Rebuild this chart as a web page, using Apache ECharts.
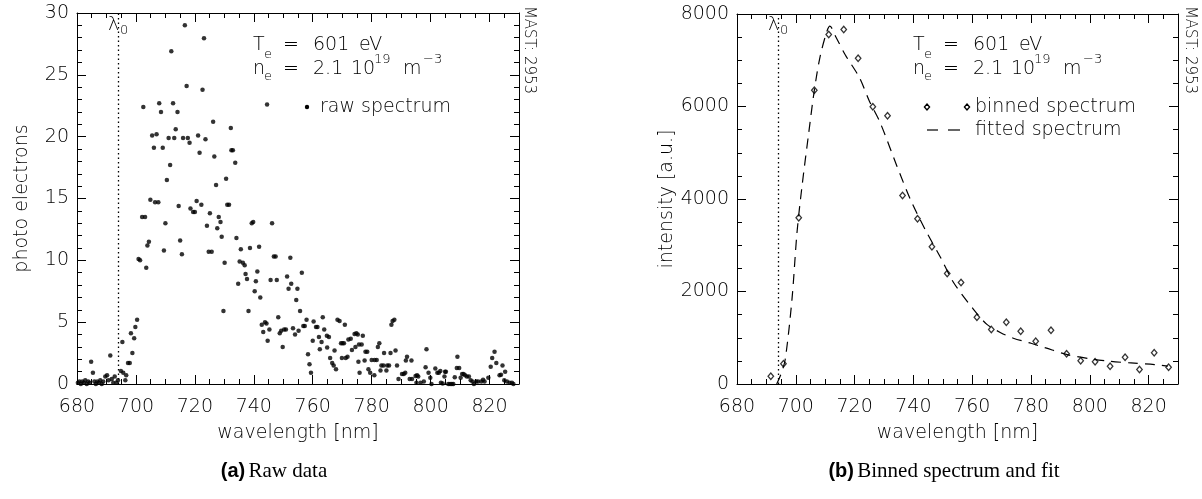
<!DOCTYPE html>
<html>
<head>
<meta charset="utf-8">
<script src="https://cdn.jsdelivr.net/npm/echarts@6/dist/echarts.min.js"></script>
<style>
html,body{margin:0;padding:0;background:#fff;}
#chart{width:1202px;height:499px;}
</style>
</head>
<body>
<div id="chart"></div>
<script>
// ---------------- data ----------------
const xMin = 680, xMax = 830;
const lambda0 = 694;

const rawWavelength = [
680.3,680.8,681.3,681.8,682.3,682.8,683.3,683.8,684.3,684.8,685.4,685.9,686.4,686.9,687.4,687.9,688.4,688.9,689.6,690.2,
690.7,691.3,691.8,692.3,692.8,693.4,693.9,694.9,695.4,695.7,696.4,696.7,697.3,697.9,698.3,698.8,699.4,699.8,700.4,700.9,
701.4,702.1,702.5,703.1,703.5,703.9,704.4,704.9,705.5,706.1,706.5,707.0,707.6,707.9,708.5,709.1,709.5,710.0,710.5,711.1,
711.6,712.0,712.6,713.0,713.5,714.1,714.5,715.0,715.6,716.0,716.6,717.2,717.6,718.2,718.5,719.4,720.0,720.6,721.1,721.6,
722.2,722.6,723.1,723.6,724.1,724.7,725.1,725.7,726.2,726.6,727.2,727.6,728.1,728.7,729.1,729.7,730.1,730.6,731.0,731.6,
732.2,732.4,732.9,733.7,734.1,734.7,735.2,735.6,736.3,736.9,737.2,737.7,738.2,738.7,739.3,739.8,740.3,740.7,741.2,741.8,
742.2,742.7,743.2,743.8,744.3,744.5,744.7,745.3,745.7,746.2,746.8,747.4,747.8,748.3,748.8,749.3,749.8,750.3,750.9,751.3,
751.8,752.4,752.7,753.3,754.0,754.4,754.8,755.2,755.7,756.3,756.8,757.3,757.9,758.4,758.9,759.4,760.0,760.3,761.1,761.6,
762.1,762.4,763.0,763.4,763.9,764.8,764.9,765.5,765.9,766.6,767.1,767.4,767.9,768.4,769.1,769.6,769.9,770.1,770.6,770.9,
771.2,771.8,772.1,772.9,773.3,774.2,774.5,774.8,775.3,775.5,775.7,775.9,776.6,777.0,777.6,777.9,778.5,778.9,779.5,780.0,
780.9,781.0,781.7,782.1,782.6,783.0,783.3,784.0,784.2,785.0,785.3,785.9,786.4,786.7,787.1,787.7,788.1,788.6,789.1,790.3,
790.9,791.4,791.6,792.0,792.9,793.5,793.7,794.9,795.2,795.4,795.8,796.6,797.7,798.3,798.6,799.3,799.9,800.3,801.6,802.3,
802.8,803.3,803.5,804.1,804.7,804.9,805.2,806.0,806.6,807.2,807.7,808.2,808.9,809.1,809.7,810.2,810.7,811.2,811.7,812.3,
813.0,813.6,814.2,814.7,815.5,816.1,817.2,817.8,818.3,819.6,820.4,820.9,821.7,822.3,823.4,823.9,824.4,825.0,825.3,825.9,
826.8,827.6,828.1
];
const rawCounts = [
0.1,0.2,0.0,0.2,0.1,0.3,0.0,0.2,0.1,1.8,0.9,0.2,0.0,0.2,0.1,0.3,0.0,0.2,0.6,0.7,
0.3,2.3,0.4,0.1,0.6,0.1,0.3,1.05,3.4,0.9,0.3,0.7,1.7,1.7,4.1,2.5,3.7,4.6,5.2,10.1,
10.0,13.5,22.4,13.5,9.4,11.2,11.5,14.9,20.1,19.1,14.7,20.2,14.7,22.7,22.0,19.1,10.8,13.0,16.5,19.9,
17.7,26.9,22.7,19.9,20.6,22.0,14.4,11.6,10.5,19.9,29.0,24.1,19.9,19.5,14.2,13.9,13.9,14.8,20.1,18.7,
14.5,23.8,27.95,19.8,12.8,10.7,13.8,10.7,21.2,18.4,16.1,12.6,13.5,13.1,11.9,5.9,9.8,16.6,14.5,14.5,
20.7,18.9,18.9,17.9,11.8,8.1,9.9,10.9,9.8,9.6,8.9,8.5,5.9,11.0,13.0,13.1,7.5,8.3,9.1,11.1,
7.0,4.8,4.2,5.0,4.9,22.6,3.5,4.4,8.4,13.0,10.3,10.3,8.4,5.4,4.1,4.3,3.0,4.4,4.4,8.7,
7.7,10.2,8.1,4.5,4.0,6.8,7.7,4.3,5.9,9.0,4.7,4.7,5.2,2.4,1.6,0.9,3.5,5.05,4.6,4.6,
3.8,2.8,3.4,5.4,4.4,3.9,2.95,3.8,2.1,1.7,1.5,2.7,1.2,5.2,5.1,3.3,2.1,3.3,3.3,4.8,
2.1,2.2,3.6,3.65,2.75,4.05,3.0,4.1,4.0,1.8,3.2,0.9,3.2,3.9,1.9,2.6,2.6,1.2,0.9,1.95,
0.7,1.95,1.95,3.0,3.3,1.1,1.5,1.5,2.5,1.1,1.5,1.5,2.5,4.8,5.1,5.2,2.7,1.5,0.4,0.8,
0.8,0.9,1.9,2.2,0.4,1.9,0.4,0.65,0.1,0.7,0.6,0.1,0.2,1.35,2.8,0.9,0.5,0.0,1.25,0.9,
0.9,1.05,0.1,0.05,0.6,1.0,1.0,0.0,0.0,0.0,0.0,0.55,1.3,2.2,1.3,0.5,0.8,0.8,0.7,0.6,
0.6,0.3,0.2,0.0,0.2,0.2,0.2,0.35,0.2,0.5,1.4,2.1,2.6,1.7,0.7,0.75,1.5,0.3,1.0,0.2,
0.1,0.1,0.0
];

const binWavelength = [691.5,695.8,701.0,706.3,711.2,716.3,721.2,726.2,731.2,736.3,741.4,746.3,751.5,756.2,
  761.6,766.5,771.6,776.5,781.6,786.8,792.1,796.9,801.8,806.9,812.0,816.9,821.9,826.8];
const binIntensity = [169,436,3593,6352,7556,7664,7044,5993,5798,4075,3572,2966,2389,2194,
  1444,1178,1336,1142,925,1163,653,502,480,385,579,313,674,363];

const fitWavelength = [693.5,695.0,696.4,698.7,700.4,702.1,704.4,706.3,708.3,710.6,711.6,713.5,716.8,721.6,725.0,
  728.7,734.4,739.0,744.0,749.2,753.7,760.5,765.0,769.7,774.0,780.0,785.0,792.0,800.0,807.0,814.0,822.0,826.5];
const fitIntensity = [0,220,530,1830,3270,4270,5430,6350,7090,7630,7740,7520,7120,6630,6120,
  5650,4710,3990,3340,2740,2190,1610,1290,1110,990,880,780,640,545,490,455,420,385];

// tick spacing (axis decoration)
const xTickInterval = 20, xMinorInterval = 5;
const yRawMax = 30, yRawInterval = 5, yRawMinor = 1;
const yFitMax = 8000, yFitInterval = 2000, yFitMinor = 500;

const Te = '601', neMant = '2.1', neExp = '19';
const shotLabel = 'MAST: 2953';

// ---------------- chart ----------------
const FONT = '"DejaVu Sans", sans-serif';
const FW = 200;
const BLACK = '#000';
const MAJ = 9, MIN = 5;   // tick lengths in px

function steps(a, b, s) { const out = []; for (let v = a; v <= b + 1e-9; v += s) out.push(v); return out; }
function plainNum(v) { return String(v); }

const boxes = [
  {left: 77, top: 13, width: 442, height: 371, ymax: yRawMax, yint: yRawInterval, yminor: yRawMinor, name: 'photo electrons', gap: 45},
  {left: 737, top: 14, width: 441, height: 370, ymax: yFitMax, yint: yFitInterval, yminor: yFitMinor, name: 'intensity [a.u.]', gap: 42}
];

// inward tick marks as markLine segments (plus the dotted lambda_0 line)
function frameMarks(b) {
  const dx = (xMax - xMin) / b.width, dy = b.ymax / b.height;
  const segs = [];
  function seg(x1, y1, x2, y2) { segs.push([{coord: [x1, y1]}, {coord: [x2, y2]}]); }
  steps(xMin, xMax, xMinorInterval).forEach(v => {
    const major = (v - xMin) % xTickInterval === 0;
    const l = (major ? MAJ : MIN) * dy;
    seg(v, 0, v, l); seg(v, b.ymax, v, b.ymax - l);
  });
  steps(0, b.ymax, b.yminor).forEach(v => {
    const major = v % b.yint === 0;
    const l = (major ? MAJ : MIN) * dx;
    seg(xMin, v, xMin + l, v); seg(xMax, v, xMax - l, v);
  });
  segs.push([{coord: [lambda0, 0], lineStyle: {type: [1.5, 3], width: 1.3}},
             {coord: [lambda0, b.ymax]}]);
  return {silent: true, symbol: ['none', 'none'], label: {show: false}, animation: false,
    lineStyle: {color: BLACK, type: 'solid', width: 1}, emphasis: {disabled: true}, data: segs};
}

const grids = [], xAxes = [], yAxes = [];
boxes.forEach((b, g) => {
  grids.push({left: b.left, top: b.top, width: b.width, height: b.height});
  const line = {show: true, onZero: false, lineStyle: {color: BLACK, width: 1}};
  xAxes.push({gridIndex: g, type: 'value', position: 'bottom', min: xMin, max: xMax, interval: xTickInterval,
    axisLine: line, axisTick: {show: false}, splitLine: {show: false},
    axisLabel: {show: true, color: BLACK, fontSize: 19, fontFamily: FONT, fontWeight: FW, margin: 14, showMaxLabel: false, formatter: plainNum},
    name: 'wavelength [nm]', nameLocation: 'middle', nameGap: 40,
    nameTextStyle: {color: BLACK, fontSize: 19, fontFamily: FONT, fontWeight: FW}});
  yAxes.push({gridIndex: g, type: 'value', position: 'left', min: 0, max: b.ymax, interval: b.yint,
    axisLine: line, axisTick: {show: false}, splitLine: {show: false},
    axisLabel: {show: true, color: BLACK, fontSize: 19, fontFamily: FONT, fontWeight: FW, margin: 8, formatter: plainNum},
    name: b.name, nameLocation: 'middle', nameGap: b.gap,
    nameTextStyle: {color: BLACK, fontSize: 19, fontFamily: FONT, fontWeight: FW}});
  xAxes.push({gridIndex: g, type: 'value', position: 'top', min: xMin, max: xMax, interval: xTickInterval,
    axisLine: line, axisTick: {show: false}, splitLine: {show: false}, axisLabel: {show: false}});
  yAxes.push({gridIndex: g, type: 'value', position: 'right', min: 0, max: b.ymax, interval: b.yint,
    axisLine: line, axisTick: {show: false}, splitLine: {show: false}, axisLabel: {show: false}});
});

const rawData = rawWavelength.map((w, i) => [w, rawCounts[i]]);
const binData = binWavelength.map((w, i) => [w, binIntensity[i]]);
const fitData = fitWavelength.map((w, i) => [w, fitIntensity[i]]);

// text helpers
function txt(x, y, s, size, extra) {
  return Object.assign({type: 'text', x: x, y: y, silent: true,
    style: {text: s, fontSize: size, fontFamily: FONT, fontWeight: FW, fill: BLACK, align: 'left', verticalAlign: 'middle'}}, extra || {});
}
function annotation(x0) {
  return [
    txt(x0, 45, 'T', 19), txt(x0 + 11, 55, 'e', 13), txt(x0 + 30, 45, '=', 19),
    txt(x0 + 60, 45, Te, 19), txt(x0 + 106, 45, 'eV', 19),
    txt(x0, 69, 'n', 19), txt(x0 + 11, 77, 'e', 13), txt(x0 + 30, 69, '=', 19),
    txt(x0 + 60, 69, neMant, 19), txt(x0 + 98, 69, '10', 19), txt(x0 + 121, 60, neExp, 13),
    txt(x0 + 150, 69, 'm', 19), txt(x0 + 170, 60, '\u22123', 13)
  ];
}
function lambdaLabel(x) {
  return [txt(x, 25, '\u03bb', 19), txt(x + 12, 31, '0', 13)];
}
function shot(x) {
  return {type: 'text', x: x, y: 50, rotation: -Math.PI / 2, silent: true,
    style: {text: shotLabel, fontSize: 15, fontFamily: FONT, fontWeight: FW, fill: BLACK, align: 'center', verticalAlign: 'middle'}};
}
function diamond(cx, cy) {
  return {type: 'polygon', silent: true, shape: {points: [[cx, cy - 3], [cx + 2.6, cy], [cx, cy + 3], [cx - 2.6, cy]]},
    style: {fill: '#fff', stroke: BLACK, lineWidth: 1.3}};
}
function caption(x, letter, words) {
  return {type: 'text', x: x, y: 471, silent: true, style: {
    text: '{a|(' + letter + ')} {b|' + words + '}', align: 'center', verticalAlign: 'middle', fill: BLACK,
    rich: {a: {fontFamily: '"Liberation Sans", sans-serif', fontWeight: 'bold', fontSize: 20, fill: BLACK},
           b: {fontFamily: '"Liberation Serif", serif', fontSize: 21, fill: BLACK}}}};
}

const graphics = [].concat(
  annotation(253), annotation(913),
  lambdaLabel(108), lambdaLabel(768),
  [shot(529), shot(1190)],
  [
    {type: 'circle', silent: true, shape: {cx: 307, cy: 107, r: 2.2}, style: {fill: BLACK}},
    txt(320, 107, 'raw spectrum', 19),
    diamond(927, 107), diamond(967, 107),
    txt(975, 107, 'binned spectrum', 19),
    {type: 'line', silent: true, shape: {x1: 927, y1: 130, x2: 938, y2: 130}, style: {stroke: BLACK, lineWidth: 1.2}},
    {type: 'line', silent: true, shape: {x1: 948, y1: 130, x2: 960, y2: 130}, style: {stroke: BLACK, lineWidth: 1.2}},
    txt(975, 130, 'fitted spectrum', 19),
    caption(274, 'a', 'Raw data'),
    caption(944, 'b', 'Binned spectrum and fit')
  ]
);

const option = {
  animation: false,
  textStyle: {fontFamily: FONT},
  grid: grids,
  xAxis: xAxes,
  yAxis: yAxes,
  series: [
    {type: 'scatter', name: 'raw spectrum', xAxisIndex: 0, yAxisIndex: 0, data: rawData, clip: false,
      symbol: 'circle', symbolSize: 4.5, itemStyle: {color: BLACK}, markLine: frameMarks(boxes[0])},
    {type: 'line', name: 'fitted spectrum', xAxisIndex: 2, yAxisIndex: 2, data: fitData, showSymbol: false,
      smooth: 0.3, lineStyle: {color: BLACK, width: 1.2, type: [10, 7]}, markLine: frameMarks(boxes[1])},
    {type: 'scatter', name: 'binned spectrum', xAxisIndex: 2, yAxisIndex: 2, data: binData, clip: false,
      symbol: 'diamond', symbolSize: [5.5, 6.5], itemStyle: {color: '#fff', borderColor: BLACK, borderWidth: 1.3}}
  ],
  graphic: graphics
};

const chart = echarts.init(document.getElementById('chart'), null, {renderer: 'canvas'});
chart.setOption(option);
</script>
</body>
</html>
